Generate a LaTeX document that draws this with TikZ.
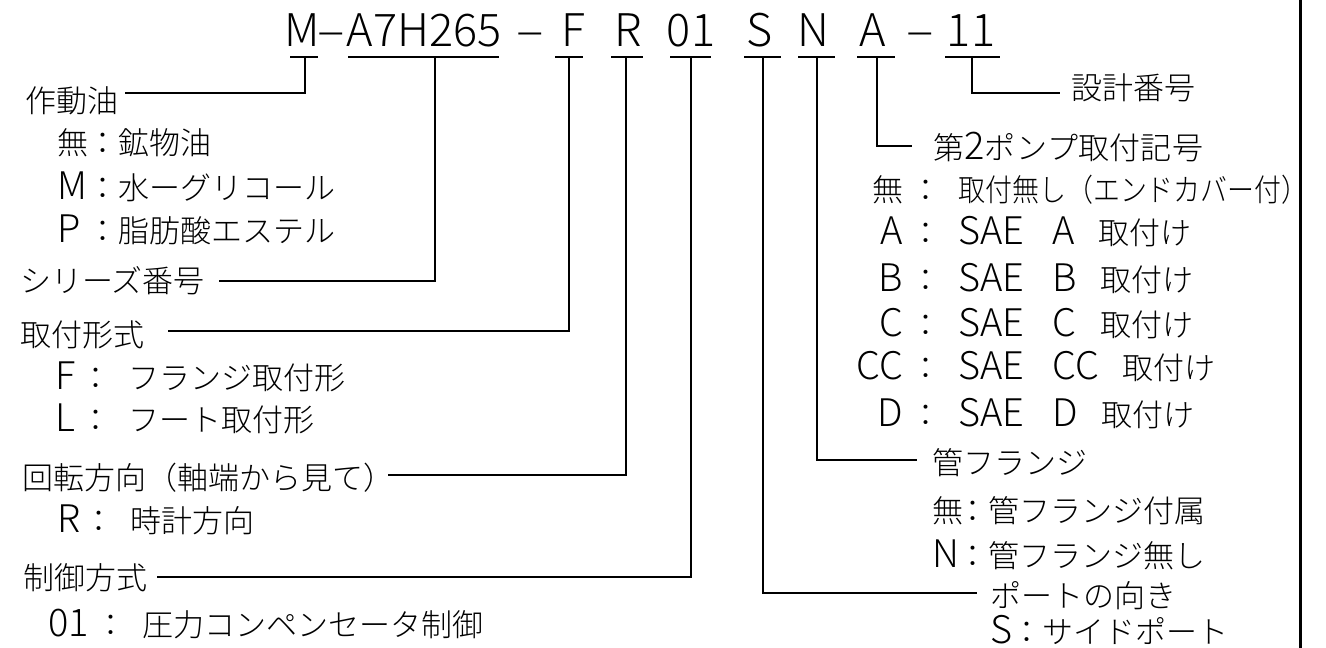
\documentclass[tikz,border=0pt]{standalone}
\usepackage{fontspec}
\usepackage{graphicx}
\IfFontExistsTF{Noto Sans CJK JP Light}
  {\setmainfont{Noto Sans CJK JP Light}}
  {\setmainfont{Noto Sans CJK JP}}
\newcommand\La[1]{{\fontsize{38}{40}\selectfont #1}}
\newcommand\Rrow[2]{\makebox[53pt][r]{#1}\hspace{7pt}：\hspace{17pt}#2}
\newcommand\Sae[1]{\La{SAE\hspace{28pt}#1}\hspace{24pt}取付け}
\begin{document}
\begin{tikzpicture}[x=1pt,y=-1pt,
  font=\fontsize{31}{36}\selectfont,
  lab/.style={inner sep=0pt, anchor=base west, text height=27.3pt, text depth=3.7pt},
  code/.style={inner sep=0pt, anchor=base, font=\fontsize{45}{50}\selectfont},
  conn/.style={line width=1.8pt},
  ul/.style={line width=1.8pt}]
\useasboundingbox (0,0) rectangle (1326,648);

% ---- model code ----
\node[code] (cM)   at (302,46) {M};
\node[code] (d1)   at (331,46) {\scalebox{1.15}[1]{–}};
\node[code] (cA7)  at (424,46) {A7H265};
\node[code] (d2)   at (530,46) {\scalebox{1.15}[1]{–}};
\node[code] (cF)   at (573,46) {F};
\node[code] (cR)   at (628,46) {R};
\node[code] (c01)  at (691,46) {01};
\node[code] (cS)   at (760,46) {S};
\node[code] (cN)   at (813,46) {N};
\node[code] (cA)   at (873,46) {A};
\node[code] (d3)   at (920,46) {\scalebox{1.15}[1]{–}};
\node[code] (c11)  at (971,46) {11};

% underlines
\draw[ul] (290,57) -- (318,57);
\draw[ul] (348,57) -- (499,57);
\draw[ul] (555,57) -- (583,57);
\draw[ul] (611,57) -- (643,57);
\draw[ul] (670,57) -- (711,57);
\draw[ul] (744,57) -- (781,57);
\draw[ul] (798,57) -- (835,57);
\draw[ul] (857,57) -- (895,57);
\draw[ul] (945,57) -- (1000,57);

\coordinate (tM)  at (305,57);
\coordinate (tA7) at (435,57);
\coordinate (tF)  at (569,57);
\coordinate (tR)  at (626,57);
\coordinate (t01) at (691,57);
\coordinate (tS)  at (763,57);
\coordinate (tN)  at (817,57);
\coordinate (tA)  at (877,57);
\coordinate (t11) at (972,57);

% ---- left labels ----
\node[lab] (oil)  at (25,112) {作動油};
\node[lab] (oil1) at (57,154) {\makebox[30pt][l]{無}：鉱物油};
\node[lab] (oil2) at (57,199) {\makebox[30pt][l]{\La{M}}：水ーグリコール};
\node[lab] (oil3) at (57,242) {\makebox[30pt][l]{\La{P}}：脂肪酸エステル};
\node[lab] (ser)  at (20,292) {シリーズ番号};
\node[lab] (mnt)  at (20,346) {取付形式};
\node[lab] (mnt1) at (55,389) {\makebox[25pt][l]{\La{F}}：\hspace{17pt}フランジ取付形};
\node[lab] (mnt2) at (55,431) {\makebox[25pt][l]{\La{L}}：\hspace{17pt}フート取付形};
\node[lab] (rot)  at (22,489) {回転方向（軸端から見て）};
\node[lab] (rot1) at (57,532) {\makebox[26pt][l]{\La{R}}：\hspace{16pt}時計方向};
\node[lab] (ctl)  at (23,589) {制御方式};
\node[lab] (ctl1) at (48,636) {\makebox[47pt][l]{\La{01}}：\hspace{16pt}圧力コンペンセータ制御};

% ---- right labels ----
\node[lab] (dsn)  at (1071,99) {設計番号};
\node[lab] (pmp)  at (933,159) {\makebox[270pt][s]{第\hfill\La{2}\hfill ポ\hfill ン\hfill プ\hfill 取\hfill 付\hfill 記\hfill 号}};
\node[lab] (pmp0) at (850,201) {\Rrow{無}{\scalebox{0.87}[1]{取付無し（エンドカバー付）}}};
\node[lab] (pmpA) at (850,244) {\Rrow{\La{A}}{\Sae{A}}};
\node[lab] (pmpB) at (850,291) {\Rrow{\La{B}}{\Sae{B}}};
\node[lab] (pmpC) at (850,336) {\Rrow{\La{C}}{\Sae{C}}};
\node[lab] (pmpCC) at (850,379) {\Rrow{\La{CC}}{\Sae{CC}}};
\node[lab] (pmpD) at (850,426) {\Rrow{\La{D}}{\Sae{D}}};
\node[lab] (fl)   at (932,474) {管フランジ};
\node[lab] (fl1)  at (932,522) {\makebox[25pt][l]{無}：管フランジ付属};
\node[lab] (fl2)  at (932,567) {\makebox[25pt][l]{\La{N}}：管フランジ無し};
\node[lab] (prt)  at (990,607) {ポートの向き};
\node[lab] (prt1) at (990,643) {\makebox[21pt][l]{\La{S}}：サイドポート};

% ---- connectors ----
\draw[conn] (tM)  |- ([xshift=7pt,yshift=7pt]oil.east);
\draw[conn] (tA7) |- ([xshift=14pt,yshift=-1pt]ser.east);
\draw[conn] (tF)  |- ([xshift=24pt,yshift=3pt]mnt.east);
\draw[conn] (tR)  |- ([xshift=-6pt,yshift=2pt]rot.east);
\draw[conn] (t01) |- ([xshift=10pt]ctl.east);
\draw[conn] (tS)  |- ([xshift=-13pt,yshift=2pt]prt.west);
\draw[conn] (tN)  |- ([xshift=-15pt,yshift=2pt]fl.west);
\draw[conn] (tA)  |- ([xshift=-21pt,yshift=1pt]pmp.west);
\draw[conn] (t11) |- ([xshift=-11pt,yshift=-6pt]dsn.west);

% right frame line
\draw[line width=3pt] (1300,0) -- (1300,648);
\end{tikzpicture}
\end{document}
